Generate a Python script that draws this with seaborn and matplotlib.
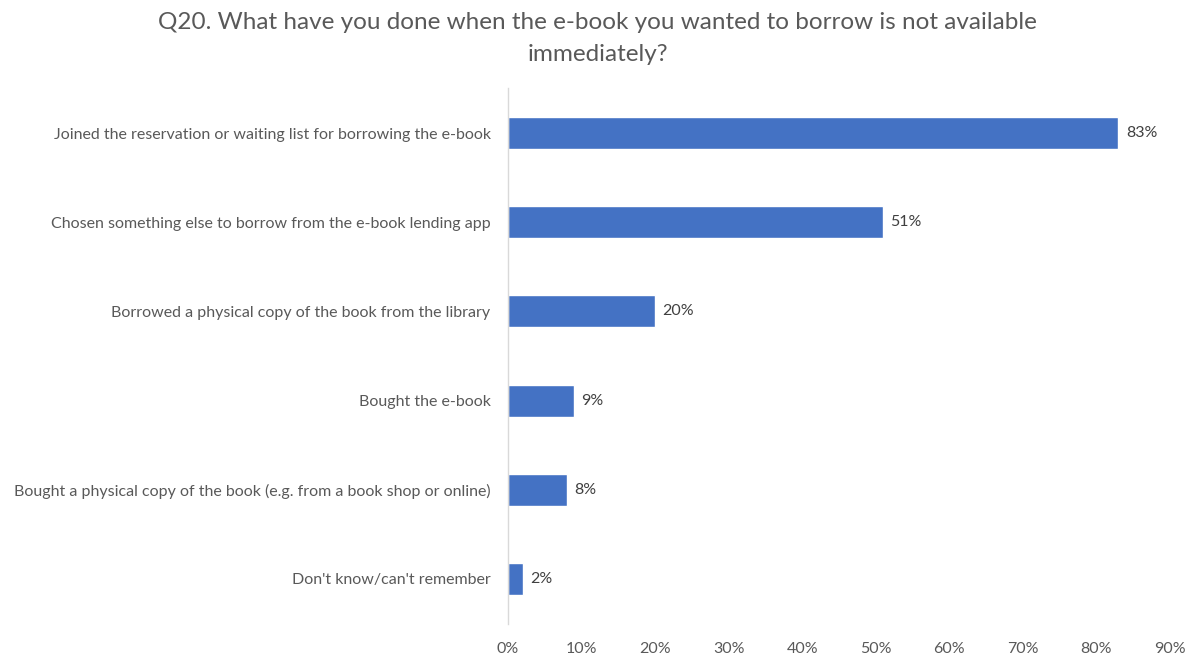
import matplotlib
matplotlib.use("Agg")
import matplotlib.pyplot as plt
import seaborn as sns
import pandas as pd

# Survey responses, share of respondents (%)
categories = [
    "Joined the reservation or waiting list for borrowing the e-book",
    "Chosen something else to borrow from the e-book lending app",
    "Borrowed a physical copy of the book from the library",
    "Bought the e-book",
    "Bought a physical copy of the book (e.g. from a book shop or online)",
    "Don't know/can't remember",
]
values = [83, 51, 20, 9, 8, 2]
x_ticks = [0, 10, 20, 30, 40, 50, 60, 70, 80, 90]
title = "Q20. What have you done when the e-book you wanted to borrow is not available\nimmediately?"

sns.set_theme(style="white")
plt.rcParams["font.family"] = ["Lato", "DejaVu Sans"]

text_color = "#595959"
bar_color = "#4472C4"

df = pd.DataFrame({"category": categories, "value": values})

fig = plt.figure(figsize=(11.95, 6.55), dpi=100)
ax = fig.add_axes([0.425, 0.048, 0.554, 0.817])

sns.barplot(data=df, x="value", y="category", orient="h", color=bar_color,
            width=0.36, saturation=1, ax=ax)

for patch, v in zip(ax.patches, values):
    y = patch.get_y() + patch.get_height() / 2
    ax.text(v + 1.0, y, f"{v}%", va="center", ha="left",
            fontsize=11.5, color="#404040")

ax.set_xlim(0, 90)
ax.set_ylim(len(categories) - 0.5, -0.5)
ax.set_xticks(x_ticks)
ax.set_xticklabels([f"{t}%" for t in x_ticks])
ax.set_xlabel("")
ax.set_ylabel("")
ax.tick_params(axis="x", length=0, pad=13, labelsize=11.5, colors=text_color)
ax.tick_params(axis="y", length=0, pad=12.5, labelsize=11.5, colors=text_color)

for side in ("top", "right", "bottom"):
    ax.spines[side].set_visible(False)
ax.spines["left"].set_color("#D9D9D9")
ax.spines["left"].set_linewidth(1.0)

fig.text(0.5, 0.982, title, ha="center", va="top", fontsize=17.5,
         color=text_color, linespacing=1.65)

fig.savefig("out.png", dpi=100)
